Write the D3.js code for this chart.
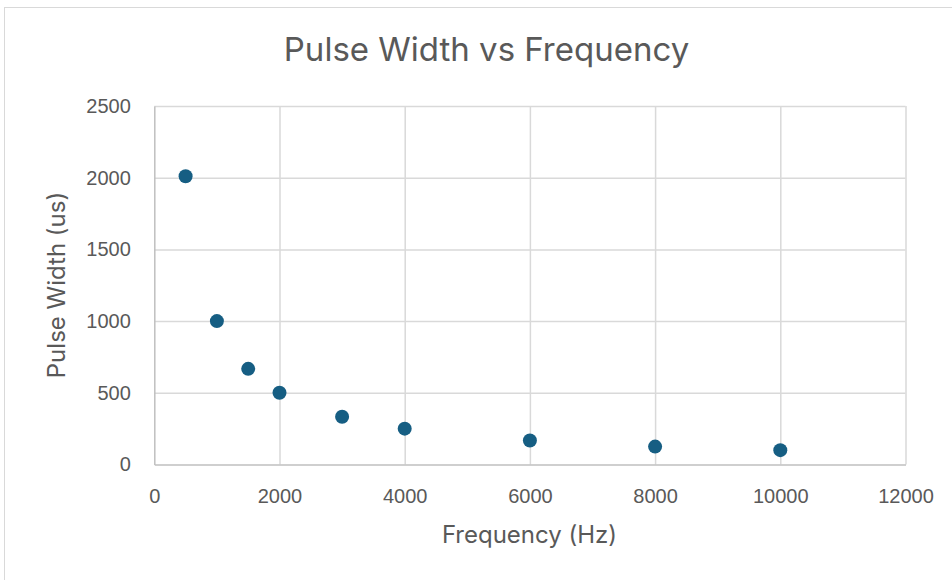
<!DOCTYPE html>
<html>
<head>
<meta charset="utf-8">
<script src="https://cdn.jsdelivr.net/npm/d3@7"></script>
<style>
  body { margin: 0; background: #fff; }
  svg { display: block; font-family: Inter, "Open Sans", sans-serif; }
</style>
</head>
<body>
<div id="chart"></div>
<script>
// data
const frequency = [500, 1000, 1500, 2000, 3000, 4000, 6000, 8000, 10000];
const pulseWidth = [2010, 1000, 667, 500, 333, 250, 167, 125, 100];
const xTicks = [0, 2000, 4000, 6000, 8000, 10000, 12000];
const yTicks = [0, 500, 1000, 1500, 2000, 2500];

const width = 952, height = 580;
const margin = {top: 106, right: 46.5, bottom: 115.5, left: 154.3};

const svg = d3.select("#chart").append("svg")
  .attr("width", width)
  .attr("height", height);

// chart frame
svg.append("rect")
  .attr("x", 4.5).attr("y", 7.5)
  .attr("width", width + 10).attr("height", height + 10)
  .attr("fill", "none")
  .attr("stroke", "#d9d9d9");

const x = d3.scaleLinear([0, 12000], [margin.left, width - margin.right]);
const y = d3.scaleLinear([0, 2500], [height - margin.bottom, margin.top]);

// gridlines
svg.append("g")
  .attr("transform", `translate(0,${margin.top})`)
  .call(d3.axisBottom(x).tickValues(xTicks.slice(1)).tickSize(height - margin.bottom - margin.top).tickFormat(""))
  .call(g => g.select(".domain").remove())
  .call(g => g.selectAll(".tick line").attr("stroke", "#d9d9d9").attr("stroke-width", 1.5));

svg.append("g")
  .attr("transform", `translate(${margin.left},0)`)
  .call(d3.axisRight(y).tickValues(yTicks.slice(1)).tickSize(width - margin.right - margin.left).tickFormat(""))
  .call(g => g.select(".domain").remove())
  .call(g => g.selectAll(".tick line").attr("stroke", "#d9d9d9").attr("stroke-width", 1.5));

// axes
svg.append("g")
  .attr("transform", `translate(0,${height - margin.bottom})`)
  .call(d3.axisBottom(x).tickValues(xTicks).tickSize(0).tickPadding(24).tickFormat(d3.format("d")))
  .call(g => g.select(".domain").attr("stroke", "#bfbfbf").attr("stroke-width", 1.5))
  .call(g => g.selectAll("text").attr("fill", "#595959").attr("font-size", 20));

svg.append("g")
  .attr("transform", `translate(${margin.left},0)`)
  .call(d3.axisLeft(y).tickValues(yTicks).tickSize(0).tickPadding(23.5).tickFormat(d3.format("d")))
  .call(g => g.select(".domain").attr("stroke", "#bfbfbf").attr("stroke-width", 1.5))
  .call(g => g.selectAll("text").attr("fill", "#595959").attr("font-size", 20));

// points
svg.append("g")
  .selectAll("circle")
  .data(frequency)
  .join("circle")
  .attr("cx", d => x(d))
  .attr("cy", (d, i) => y(pulseWidth[i]))
  .attr("r", 7)
  .attr("fill", "#165e83");

// titles
svg.append("text")
  .attr("x", 486.5).attr("y", 61)
  .attr("text-anchor", "middle")
  .attr("fill", "#595959")
  .attr("font-size", 33)
  .text("Pulse Width vs Frequency");

svg.append("text")
  .attr("x", 529.5).attr("y", 543)
  .attr("text-anchor", "middle")
  .attr("fill", "#595959")
  .attr("font-size", 24)
  .text("Frequency (Hz)");

svg.append("text")
  .attr("transform", "translate(65,285) rotate(-90)")
  .attr("text-anchor", "middle")
  .attr("fill", "#595959")
  .attr("font-size", 24)
  .text("Pulse Width (us)");
</script>
</body>
</html>
